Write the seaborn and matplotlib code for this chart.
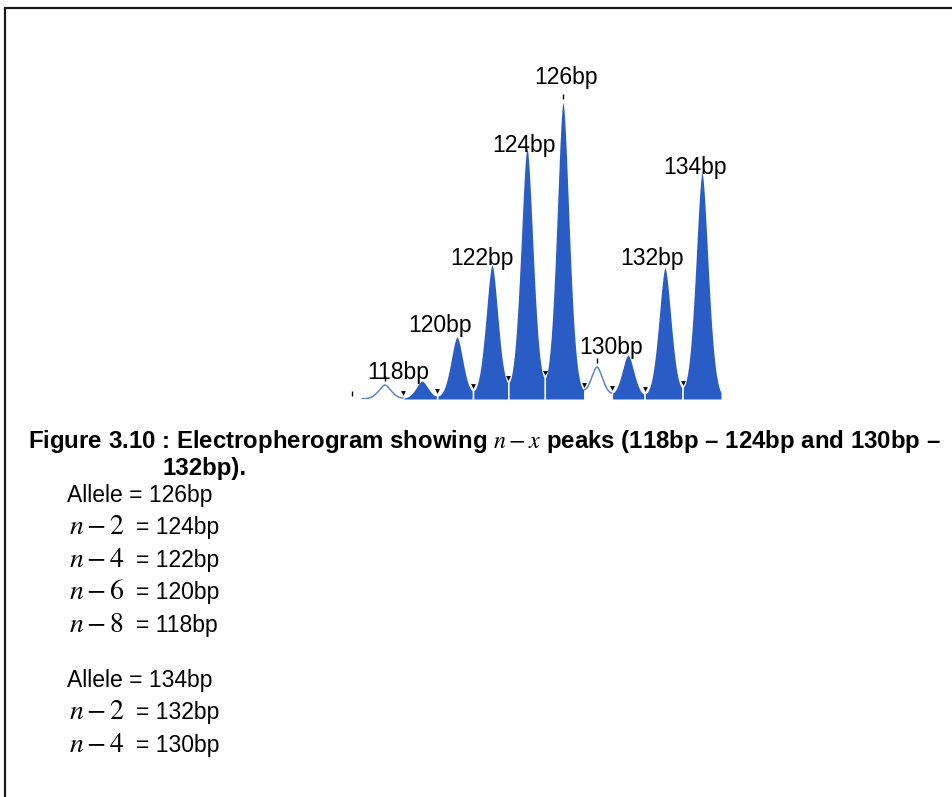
import numpy as np
import pandas as pd
import matplotlib
matplotlib.use("Agg")
import matplotlib.pyplot as plt
from matplotlib.lines import Line2D
import seaborn as sns

# ---------------- data ----------------
peak_scan = [45, 82, 117, 152, 187, 223, 257, 288, 325, 362]
peak_height = [14, 18, 62, 134, 251, 296, 32, 44, 131, 226]
peak_filled = [False, True, True, True, True, True, False, True, True, True]
peak_label = ["118bp", "", "120bp", "122bp", "124bp", "126bp", "130bp", "", "132bp", "134bp"]
peak_tick = [True, False, False, False, False, True, True, False, False, False]
stray_tick_scan = [12]

caption_line1 = r"Figure 3.10 : Electropherogram showing $n-x$ peaks (118bp – 124bp and 130bp –"
caption_line2 = "132bp)."
allele_1 = "Allele = 126bp"
stutter_1_terms = [r"$n-2$", r"$n-4$", r"$n-6$", r"$n-8$"]
stutter_1_sizes = ["124bp", "122bp", "120bp", "118bp"]
allele_2 = "Allele = 134bp"
stutter_2_terms = [r"$n-2$", r"$n-4$"]
stutter_2_sizes = ["132bp", "130bp"]

# ---------------- style ----------------
W, H = 953, 797
BLUE = "#2a5cc6"
LINE_BLUE = "#5a86d2"
ALPHA_W = 9.0      # peak shape width
SHAPE_P = 1.7      # peak shape exponent
label_dx = [13, 0, -17, -10, -3, 3, 14, 0, -13, -7]
label_dy = [6, 0, 5, 0, -4, 19, 13, 0, 3, -1]

sns.set_theme(style="white")
plt.rcParams["font.family"] = ["Liberation Sans", "DejaVu Sans"]
plt.rcParams["mathtext.fontset"] = "stix"
plt.rcParams["text.color"] = "black"

fig = plt.figure(figsize=(W / 100, H / 100), dpi=100)
fig.patch.set_facecolor("white")


def px(x, y):
    return x / W, 1 - y / H


# ---------------- electropherogram ----------------
ax = fig.add_axes([340 / W, 1 - 399 / H, 400 / W, 339 / H])
ax.set_xlim(0, 400)
ax.set_ylim(0, 339)
ax.axis("off")

xs = np.linspace(0, 400, 8001)
sig = np.zeros_like(xs)
for c, h in zip(peak_scan, peak_height):
    sig += h * np.exp(-(np.abs(xs - c) / ALPHA_W) ** SHAPE_P)

bounds = []
for c0, c1 in zip(peak_scan[:-1], peak_scan[1:]):
    m = (xs >= c0) & (xs <= c1)
    bounds.append(xs[m][np.argmin(sig[m])])
starts = [peak_scan[0] - 2.6 * ALPHA_W] + bounds
ends = bounds + [peak_scan[-1] + 2.2 * ALPHA_W]

for a, b, filled in zip(starts, ends, peak_filled):
    if filled:
        m = (xs >= a + 0.8) & (xs <= b - 0.8)
        ax.fill_between(xs[m], 0, sig[m], color=BLUE, lw=0, zorder=2)
    else:
        m = (xs >= a) & (xs <= b)
        df = pd.DataFrame({"scan": xs[m], "rfu": sig[m]})
        sns.lineplot(data=df, x="scan", y="rfu", ax=ax, color=LINE_BLUE,
                     lw=1.1, sort=False, zorder=2)

bvals = np.interp(bounds, xs, sig)
ax.scatter(bounds, bvals + 5, marker="v", s=12, color="black", lw=0, zorder=4)

for c, h, t in zip(peak_scan, peak_height, peak_tick):
    if t:
        ax.vlines(c, h + 4, h + 9, color="black", lw=1.0, zorder=4)
for c in stray_tick_scan:
    ax.vlines(c, 3, 8, color="black", lw=1.0, zorder=4)

for c, h, lab, dx, dy in zip(peak_scan, peak_height, peak_label, label_dx, label_dy):
    if lab:
        ax.text(c + dx, h + dy, lab, ha="center", va="baseline",
                fontsize=16.5, color="black", zorder=5)

# ---------------- caption & legend text ----------------
fig.canvas.draw()
renderer = fig.canvas.get_renderer()


def fit(t, target):
    w = t.get_window_extent(renderer).width
    t.set_fontsize(t.get_fontsize() * target / w)


t1 = fig.text(*px(28, 448), caption_line1, fontsize=16, fontweight="bold",
              ha="left", va="baseline")
fit(t1, 914)
fs_cap = t1.get_fontsize()
fig.text(*px(163, 475), caption_line2, fontsize=fs_cap, fontweight="bold",
         ha="left", va="baseline")

fig.text(*px(67, 502), allele_1, fontsize=16.5, ha="left", va="baseline")
for i, (term, size) in enumerate(zip(stutter_1_terms, stutter_1_sizes)):
    yb = 534 + i * 32.7
    fig.text(*px(69, yb), term, fontsize=20, ha="left", va="baseline")
    fig.text(*px(136, yb), "= " + size, fontsize=16.5, ha="left", va="baseline")

fig.text(*px(67, 687), allele_2, fontsize=16.5, ha="left", va="baseline")
for i, (term, size) in enumerate(zip(stutter_2_terms, stutter_2_sizes)):
    yb = 719 + i * 33
    fig.text(*px(69, yb), term, fontsize=20, ha="left", va="baseline")
    fig.text(*px(136, yb), "= " + size, fontsize=16.5, ha="left", va="baseline")

# ---------------- frame ----------------
fig.add_artist(Line2D([5 / W, 5 / W], [0, 1 - 8 / H], transform=fig.transFigure,
                      color="#1a1a1a", lw=1.6))
fig.add_artist(Line2D([5 / W, 1], [1 - 8 / H, 1 - 8 / H], transform=fig.transFigure,
                      color="#1a1a1a", lw=1.6))

fig.savefig("out.png", dpi=100, facecolor="white")
